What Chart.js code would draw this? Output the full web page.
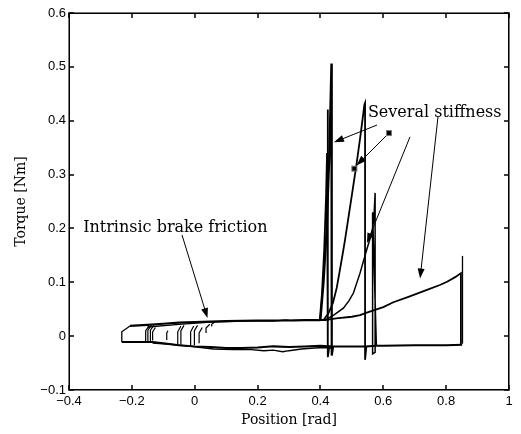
<!DOCTYPE html>
<html><head><meta charset="utf-8">
<script src="https://cdn.jsdelivr.net/npm/chart.js@4"></script>
<style>html,body{margin:0;padding:0;background:#fff}</style>
</head><body>
<canvas id="c" width="521" height="434"></canvas>
<script>
// ---- tick values / labels ----
const xTickValues = [-0.4, -0.2, 0, 0.2, 0.4, 0.6, 0.8, 1];
const xTickLabels = ['−0.4', '−0.2', '0', '0.2', '0.4', '0.6', '0.8', '1'];
const yTickValues = [-0.1, 0, 0.1, 0.2, 0.3, 0.4, 0.5, 0.6];
const yTickLabels = ['−0.1', '0', '0.1', '0.2', '0.3', '0.4', '0.5', '0.6'];

// ---- friction band ----
const leftEdgeX = [-0.232, -0.232, -0.206];
const leftEdgeY = [-0.011, 0.008, 0.019];
const upperX = [-0.206, -0.15, -0.10, -0.05, 0.00, 0.05, 0.10, 0.20, 0.30, 0.35, 0.40, 0.42];
const upperY = [0.019, 0.021, 0.023, 0.025, 0.026, 0.027, 0.028, 0.029, 0.029, 0.030, 0.030, 0.030];
const upper2X = [-0.15, -0.05, 0.05, 0.15, 0.25, 0.29, 0.31, 0.36, 0.40];
const upper2Y = [0.017, 0.022, 0.026, 0.028, 0.028, 0.030, 0.029, 0.029, 0.029];
const lowerX = [0.851, 0.80, 0.70, 0.60, 0.575, 0.545, 0.50, 0.44, 0.40, 0.35, 0.30, 0.25, 0.20, 0.15, 0.10, 0.05, 0.00, -0.05, -0.10, -0.134, -0.232];
const lowerY = [-0.016, -0.017, -0.017, -0.018, -0.018, -0.019, -0.019, -0.019, -0.018, -0.019, -0.020, -0.019, -0.021, -0.022, -0.022, -0.020, -0.019, -0.017, -0.013, -0.011, -0.011];
const lower2X = [0.44, 0.42, 0.38, 0.34, 0.30, 0.28, 0.25, 0.22, 0.18, 0.12, 0.06, 0.02, -0.03, -0.08, -0.134];
const lower2Y = [-0.023, -0.021, -0.022, -0.024, -0.027, -0.029, -0.026, -0.027, -0.025, -0.025, -0.024, -0.021, -0.018, -0.015, -0.013];

// ---- return hooks at loop reversals ----
const hookX    = [-0.156, -0.149, -0.141, -0.134, -0.089, -0.054, -0.044, -0.013, -0.001, 0.014, 0.036, 0.054];
const hookLow  = [-0.011, -0.011, -0.012, -0.008, -0.007, -0.015, -0.016, -0.017, -0.017, -0.013, 0.006, 0.018];
const hookHigh = [0.010, 0.011, 0.011, 0.008, 0.006, 0.008, 0.010, 0.008, 0.010, 0.006, 0.015, 0.022];
const hookEndX = [-0.145, -0.138, -0.130, -0.125, -0.085, -0.044, -0.034, -0.003, 0.009, 0.024, 0.048, 0.066];
const hookEndY = [0.019, 0.020, 0.020, 0.016, 0.010, 0.019, 0.020, 0.019, 0.020, 0.016, 0.022, 0.027];

// ---- stiffness curves ----
const stiffAX = [0.398, 0.405, 0.412, 0.418, 0.421, 0.423, 0.424, 0.428];
const stiffAY = [0.030, 0.080, 0.160, 0.260, 0.340, 0.421, -0.039, -0.020];
const stiffBX = [0.400, 0.410, 0.420, 0.428, 0.432, 0.435, 0.436, 0.440];
const stiffBY = [0.030, 0.100, 0.200, 0.330, 0.430, 0.506, -0.036, -0.020];
const stiffCX = [0.410, 0.425, 0.440, 0.452, 0.462, 0.470, 0.478, 0.488, 0.500, 0.515, 0.528, 0.540, 0.542, 0.542, 0.546];
const stiffCY = [0.030, 0.042, 0.062, 0.090, 0.123, 0.150, 0.178, 0.216, 0.262, 0.320, 0.375, 0.430, 0.433, -0.044, -0.020];
const stiffDX = [0.415, 0.440, 0.473, 0.490, 0.505, 0.526, 0.547, 0.563, 0.570, 0.574, 0.574, 0.566, 0.566, 0.578];
const stiffDY = [0.030, 0.038, 0.052, 0.065, 0.080, 0.117, 0.160, 0.191, 0.216, 0.266, -0.030, -0.033, 0.230, -0.018];
const stiffEX = [0.420, 0.450, 0.500, 0.526, 0.550, 0.600, 0.632, 0.680, 0.739, 0.780, 0.803, 0.830, 0.847, 0.847];
const stiffEY = [0.030, 0.033, 0.036, 0.039, 0.044, 0.054, 0.063, 0.073, 0.086, 0.095, 0.101, 0.110, 0.117, -0.016];
const spikeEX = [0.852, 0.852];
const spikeEY = [-0.014, 0.149];

// ---- annotations (text + arrows, in data units) ----
const noteTexts = ['Intrinsic brake friction', 'Several stiffness'];
const noteAnchors = [[-0.355, 0.2008], [0.551, 0.414]];
const arrowFrom = [[-0.0405, 0.188], [0.580, 0.392], [0.618, 0.377], [0.685, 0.370], [0.774, 0.407]];
const arrowTo   = [[0.0407, 0.0337], [0.443, 0.360], [0.515, 0.317], [0.548, 0.173], [0.717, 0.107]];
const squarePts = [[0.618, 0.377], [0.508, 0.311]];

const pts = (xs, ys) => xs.map((x, i) => ({x: x, y: ys[i]}));
const ds = (data, w) => ({data: data, showLine: true, borderColor: '#000', borderWidth: w, pointRadius: 0, fill: false, tension: 0});

const datasets = [
  ds(pts(leftEdgeX, leftEdgeY), 1.3),
  ds(pts(upperX, upperY), 2.2),
  ds(pts(upper2X, upper2Y), 1.3),
  ds(pts(lowerX, lowerY), 2.0),
  ds(pts(lower2X, lower2Y), 1.4),
  ds(pts(stiffAX, stiffAY), 1.8),
  ds(pts(stiffBX, stiffBY), 2.2),
  ds(pts(stiffCX, stiffCY), 1.8),
  ds(pts(stiffDX, stiffDY), 1.5),
  ds(pts(stiffEX, stiffEY), 1.8),
  ds(pts(spikeEX, spikeEY), 1.3)
];
hookX.forEach((hx, i) => {
  datasets.push(ds([{x: hx, y: hookLow[i]}, {x: hx, y: hookHigh[i]}, {x: hookEndX[i], y: hookEndY[i]}], 1.2));
});

const SERIF = '"DejaVu Serif", "Liberation Serif", serif';
const SANS = '"Liberation Sans", Arial, sans-serif';

const framePlugin = {
  id: 'frame',
  afterDraw(chart) {
    const ctx = chart.ctx;
    const xs = chart.scales.x, ys = chart.scales.y;
    const L0 = Math.round(xs.getPixelForValue(-0.4));
    const R0 = Math.round(xs.getPixelForValue(1));
    const T0 = Math.round(ys.getPixelForValue(0.6));
    const B0 = Math.round(ys.getPixelForValue(-0.1));
    ctx.save();
    // soft outer edge of the box
    ctx.fillStyle = '#777777';
    ctx.fillRect(L0 - 1, T0 - 1, R0 - L0 + 1, 1);
    ctx.fillRect(L0 - 1, B0, R0 - L0 + 2, 1);
    ctx.fillRect(L0 - 1, T0 - 1, 1, B0 - T0 + 1);
    ctx.fillRect(R0, T0 - 1, 1, B0 - T0 + 2);
    // box
    ctx.fillStyle = '#000000';
    ctx.fillRect(L0, T0, R0 - L0, 1);
    ctx.fillRect(L0, B0 - 1, R0 - L0, 1);
    ctx.fillRect(L0, T0, 1, B0 - T0);
    ctx.fillRect(R0 - 1, T0, 1, B0 - T0);
    // inward ticks on all sides
    const TL = 5;
    xTickValues.forEach(v => {
      const px = Math.round(xs.getPixelForValue(v));
      ctx.fillRect(px - 0.75, B0 - TL, 1.5, TL);
      ctx.fillRect(px - 0.75, T0, 1.5, TL);
    });
    yTickValues.forEach(v => {
      const py = Math.round(ys.getPixelForValue(v));
      ctx.fillRect(L0, py - 0.75, TL, 1.5);
      ctx.fillRect(R0 - TL, py - 0.75, TL, 1.5);
    });

    // annotations
    ctx.font = '16px ' + SERIF;
    ctx.textBaseline = 'middle';
    ctx.textAlign = 'left';
    noteTexts.forEach((t, i) => {
      ctx.fillText(t, xs.getPixelForValue(noteAnchors[i][0]), ys.getPixelForValue(noteAnchors[i][1]));
    });
    ctx.strokeStyle = '#000000';
    ctx.lineWidth = 1;
    arrowFrom.forEach((f, i) => {
      const x0 = xs.getPixelForValue(f[0]), y0 = ys.getPixelForValue(f[1]);
      const x1 = xs.getPixelForValue(arrowTo[i][0]), y1 = ys.getPixelForValue(arrowTo[i][1]);
      const ang = Math.atan2(y1 - y0, x1 - x0);
      const hl = 10, hw = 3.5;
      ctx.beginPath();
      ctx.moveTo(x0, y0);
      ctx.lineTo(x1 - hl * 0.8 * Math.cos(ang), y1 - hl * 0.8 * Math.sin(ang));
      ctx.stroke();
      ctx.beginPath();
      ctx.moveTo(x1, y1);
      ctx.lineTo(x1 - hl * Math.cos(ang) + hw * Math.sin(ang), y1 - hl * Math.sin(ang) - hw * Math.cos(ang));
      ctx.lineTo(x1 - hl * Math.cos(ang) - hw * Math.sin(ang), y1 - hl * Math.sin(ang) + hw * Math.cos(ang));
      ctx.closePath();
      ctx.fill();
    });
    squarePts.forEach(p => {
      const px = xs.getPixelForValue(p[0]), py = ys.getPixelForValue(p[1]);
      ctx.fillStyle = '#000';
      ctx.fillRect(px - 2.5, py - 2.5, 5, 5);
      ctx.strokeStyle = '#777';
      ctx.strokeRect(px - 2.5, py - 2.5, 5, 5);
    });
    ctx.restore();
  }
};

new Chart(document.getElementById('c'), {
  type: 'scatter',
  data: {datasets: datasets},
  options: {
    responsive: false,
    animation: false,
    devicePixelRatio: 1,
    layout: {padding: {left: 0, top: 13, right: 12, bottom: 0}},
    plugins: {legend: {display: false}, tooltip: {enabled: false}},
    scales: {
      x: {
        type: 'linear', min: -0.4, max: 1,
        afterBuildTicks: s => { s.ticks = xTickValues.map(v => ({value: v})); },
        afterFit: s => { s.height = 44; },
        grid: {display: false, drawTicks: false},
        border: {display: false},
        ticks: {
          color: '#000', font: {family: SANS, size: 13}, padding: 4, maxRotation: 0,
          callback: (v) => { const i = xTickValues.findIndex(t => Math.abs(t - v) < 1e-9); return i >= 0 ? xTickLabels[i] : ''; }
        },
        title: {display: true, text: 'Position [rad]', color: '#000', font: {family: SERIF, size: 14}, padding: {top: 0, bottom: 5}}
      },
      y: {
        type: 'linear', min: -0.1, max: 0.6,
        afterBuildTicks: s => { s.ticks = yTickValues.map(v => ({value: v})); },
        afterFit: s => { s.width = 69; },
        grid: {display: false, drawTicks: false},
        border: {display: false},
        ticks: {
          color: '#000', font: {family: SANS, size: 13}, padding: 3,
          callback: (v) => { const i = yTickValues.findIndex(t => Math.abs(t - v) < 1e-9); return i >= 0 ? yTickLabels[i] : ''; }
        },
        title: {display: true, text: 'Torque [Nm]', color: '#000', font: {family: SERIF, size: 14}, padding: {top: 13, bottom: 0}}
      }
    }
  },
  plugins: [framePlugin]
});
</script>
</body></html>
